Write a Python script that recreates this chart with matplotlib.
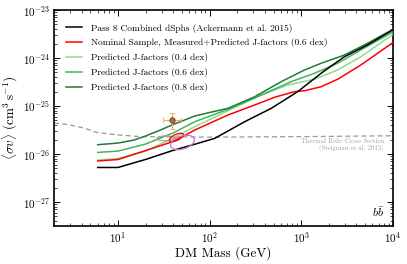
import numpy as np
import matplotlib
matplotlib.use("Agg")
import matplotlib.pyplot as plt
from matplotlib.ticker import NullFormatter, FixedLocator

plt.rcParams['font.family'] = 'serif'
plt.rcParams['font.serif'] = ['cmr10']
plt.rcParams['mathtext.fontset'] = 'cm'
plt.rcParams['axes.formatter.use_mathtext'] = True
plt.rcParams['axes.unicode_minus'] = False

# ---------------- data ----------------
black_mass = [6, 10, 20, 40, 70, 114, 242, 472, 918, 1650, 2958, 5300, 10000]
black_sv = [5.24e-27, 5.24e-27, 7.7e-27, 1.19e-26, 1.61e-26, 2.12e-26, 4.71e-26,
            8.95e-26, 1.99e-25, 4.8e-25, 1.06e-24, 1.87e-24, 3.83e-24]

red_mass = [6, 10, 20, 40, 69, 159, 311, 513, 845, 1087, 1650, 2500, 4490, 10000]
red_sv = [7.15e-27, 7.67e-27, 1.18e-26, 1.82e-26, 3.16e-26, 6.5e-26, 1.05e-25,
          1.52e-25, 1.99e-25, 2.08e-25, 2.52e-25, 3.6e-25, 7.15e-25, 2.08e-24]

g04_mass = [6, 10, 20, 40, 69, 159, 367, 715, 1396, 2500, 4490, 10000]
g04_sv = [7.5e-27, 8.06e-27, 1.15e-26, 2.15e-26, 3.71e-26, 7.98e-26, 1.69e-25,
          2.74e-25, 3.6e-25, 5.62e-25, 1.06e-24, 3.09e-24]

g06_mass = [6, 10, 20, 40, 69, 159, 367, 778, 1396, 2500, 4490, 10000]
g06_sv = [1.08e-26, 1.15e-26, 1.61e-26, 2.74e-26, 4.71e-26, 8.53e-26, 1.69e-25,
          3.21e-25, 4.8e-25, 7.76e-25, 1.47e-24, 3.48e-24]

g08_mass = [6, 10, 15, 20, 30, 40, 69, 100, 159, 311, 606, 1087, 1650, 2958, 5300, 10000]
g08_sv = [1.56e-26, 1.69e-26, 1.96e-26, 2.37e-26, 3.24e-26, 4.12e-26, 6.19e-26,
          7.33e-26, 8.95e-26, 1.56e-25, 3.21e-25, 5.62e-25, 7.76e-25, 1.15e-24,
          2.02e-24, 3.93e-24]

relic_mass = [2, 2.36, 3.03, 4.2, 5.9, 10, 17.5, 100, 1000, 10000]
relic_sv = [4.37e-26, 4.3e-26, 4.0e-26, 3.5e-26, 2.8e-26, 2.5e-26, 2.3e-26,
            2.25e-26, 2.3e-26, 2.4e-26]

# GC excess best-fit point
pt_mass = 39.2
pt_sv = 5.0e-26
pt_mass_lo, pt_mass_hi = 31.3, 48.4
pt_sv_lo, pt_sv_hi = 3.3e-26, 7.2e-26

# contour regions: centre mass, centre sigma-v, half-width (dex) in mass, in sv, phase
ell_names = ['gray', 'red', 'magenta']
ell_mass = [33.4, 43.4, 50.6]
ell_sv = [2.11e-26, 2.21e-26, 1.74e-26]
ell_dm = [0.098, 0.076, 0.13]
ell_ds = [0.052, 0.0875, 0.15]
ell_phase = [np.pi / 2, 0.9, 1.2]
ell_colors = ['#9ea88a', '#ff0000', '#d070d8']

labels = ['Pass 8 Combined dSphs (Ackermann et al. 2015)',
          'Nominal Sample, Measured+Predicted J-factors (0.6 dex)',
          'Predicted J-factors (0.4 dex)',
          'Predicted J-factors (0.6 dex)',
          'Predicted J-factors (0.8 dex)']

x_ticks = [1e1, 1e2, 1e3, 1e4]
y_ticks = [1e-27, 1e-26, 1e-25, 1e-24, 1e-23]

# ---------------- figure ----------------
fig = plt.figure(figsize=(4.07, 2.64), dpi=100)
ax = fig.add_axes([54 / 407, 1 - 226 / 264, (392.7 - 54) / 407, (226 - 10) / 264])
ax.set_xscale('log')
ax.set_yscale('log')

lw = 1.1
ax.plot(relic_mass, relic_sv, color='#999999', lw=0.9, ls=(0, (4, 2.5)), zorder=1)

ax.plot(black_mass, black_sv, color='black', lw=lw, label=labels[0], zorder=5)
ax.plot(red_mass, red_sv, color='#ff0000', lw=lw, label=labels[1], zorder=4)
ax.plot(g04_mass, g04_sv, color='#8fdc8f', lw=lw, label=labels[2], zorder=3)
ax.plot(g06_mass, g06_sv, color='#45b35e', lw=lw, label=labels[3], zorder=3)
ax.plot(g08_mass, g08_sv, color='#1e7b3c', lw=lw, label=labels[4], zorder=3)

t = np.linspace(0, 2 * np.pi, 200)
for cm, cs, dm, ds, ph, col in zip(ell_mass, ell_sv, ell_dm, ell_ds, ell_phase, ell_colors):
    lx = np.log10(cm) + dm * np.cos(t)
    ly = np.log10(cs) + ds * np.cos(t - ph)
    ax.plot(10 ** lx, 10 ** ly, color=col, lw=0.9, zorder=6)

ax.errorbar([pt_mass], [pt_sv],
            xerr=[[pt_mass - pt_mass_lo], [pt_mass_hi - pt_mass]],
            yerr=[[pt_sv - pt_sv_lo], [pt_sv_hi - pt_sv]],
            fmt='o', ms=3.8, mfc='#b8742f', mec='#5a3510', mew=0.6,
            ecolor='#f5a962', elinewidth=0.9, capsize=2.2, capthick=0.9, zorder=7)

ax.set_xticks(x_ticks)
ax.set_yticks(y_ticks)
ax.set_xlim(2, 1e4)
ax.set_ylim(10 ** -27.5, 1e-23)
ax.xaxis.set_minor_formatter(NullFormatter())
ax.yaxis.set_minor_formatter(NullFormatter())

ax.tick_params(which='both', direction='in', top=True, right=True, labelsize=8, pad=3)
ax.tick_params(which='major', length=4, width=0.7)
ax.tick_params(which='minor', length=2, width=0.5)
for s in ax.spines.values():
    s.set_linewidth(1.2)

ax.set_xlabel('DM Mass (GeV)', fontsize=9.5, labelpad=1)
ax.set_ylabel(r'$\langle\sigma v\rangle\ (\mathrm{cm}^{3}\,\mathrm{s}^{-1})$', fontsize=9.5, labelpad=2)

ax.text(0.974, 0.395, 'Thermal Relic Cross Section', transform=ax.transAxes,
        ha='right', va='center', fontsize=4.8, color='#a0a0a0')
ax.text(0.974, 0.36, '(Steigman et al. 2012)', transform=ax.transAxes,
        ha='right', va='center', fontsize=4.8, color='#a0a0a0')
ax.text(0.957, 0.065, r'$b\bar{b}$', transform=ax.transAxes,
        ha='center', va='center', fontsize=8.5)

leg = ax.legend(loc='upper left', bbox_to_anchor=(0.035, 0.937), frameon=False,
                fontsize=6.8, handlelength=1.7, handletextpad=1.0, labelspacing=0.62,
                borderpad=0, borderaxespad=0)

fig.savefig('out.png', dpi=100)
